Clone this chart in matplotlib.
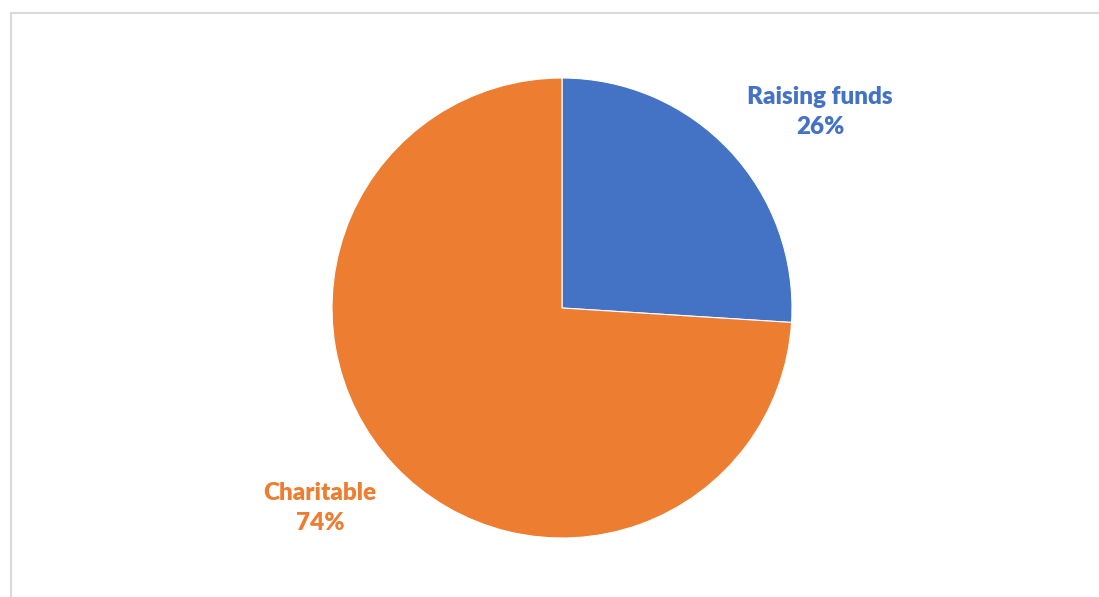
import matplotlib
matplotlib.use("Agg")
import matplotlib.pyplot as plt
from matplotlib.patches import Rectangle

categories = ["Raising funds", "Charitable"]
values = [26, 74]
colors = ["#4472C4", "#ED7D31"]

W, H = 1099, 597
fig = plt.figure(figsize=(W / 100, H / 100), dpi=100)
ax = fig.add_axes([0, 0, 1, 1])
ax.set_xlim(0, W)
ax.set_ylim(0, H)
ax.axis("off")

# chart-area frame
ax.add_patch(Rectangle((10.5, -5), W, H - 12.5 + 5, fill=False,
                       edgecolor="#d9d9d9", linewidth=1.5))

ax.pie(values, colors=colors, startangle=90, counterclock=False,
       center=(562, H - 308), radius=230,
       wedgeprops=dict(edgecolor="white", linewidth=0.8))
ax.set_xlim(0, W)
ax.set_ylim(0, H)
ax.set_aspect("auto")

label_pos = [(820, H - 112), (320, H - 508)]
for cat, v, c, (x, y) in zip(categories, values, colors, label_pos):
    ax.text(x, y, f"{cat}\n{v}%", color=c, ha="center", va="center",
            fontsize=17.5, fontweight="heavy", family=["Lato", "DejaVu Sans"],
            linespacing=1.45)

fig.savefig("out.png", dpi=100)
